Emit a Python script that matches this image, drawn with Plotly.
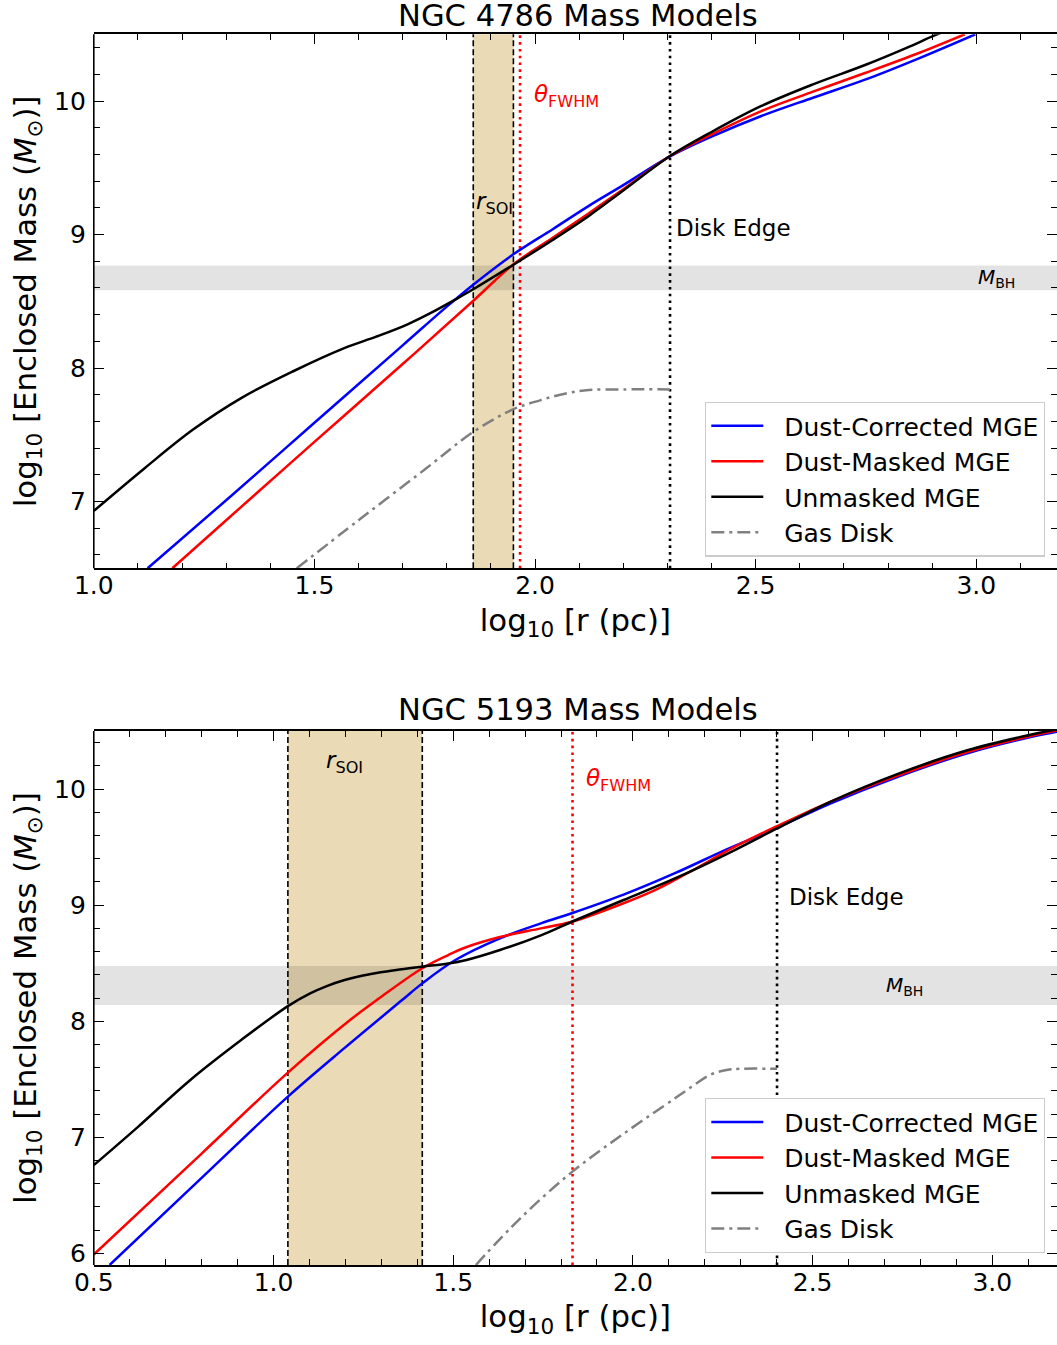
import plotly.graph_objects as go

# ---------------- data : NGC 4786 (top) ----------------
top_dc_x = [1.122, 1.3, 1.5, 1.7, 1.8, 1.862, 1.95, 2.04, 2.122, 2.2, 2.306, 2.4, 2.513, 2.63, 2.748, 2.87, 2.998]
top_dc_y = [6.5, 7.01, 7.59, 8.17, 8.46, 8.63, 8.85, 9.04, 9.215, 9.37, 9.585, 9.733, 9.888, 10.025, 10.16, 10.32, 10.5]

top_dm_x = [1.178, 1.3, 1.5, 1.7, 1.862, 1.952, 2.04, 2.122, 2.2, 2.306, 2.4, 2.513, 2.63, 2.748, 2.87, 2.974]
top_dm_y = [6.5, 6.86, 7.447, 8.03, 8.51, 8.78, 8.975, 9.16, 9.34, 9.588, 9.75, 9.925, 10.07, 10.21, 10.36, 10.5]

top_um_x = [1.0, 1.116, 1.225, 1.335, 1.452, 1.569, 1.64, 1.71, 1.765, 1.819, 1.862, 1.952, 2.04, 2.122, 2.2, 2.306, 2.4, 2.513, 2.63, 2.748, 2.85, 2.904, 2.95]
top_um_y = [6.93, 7.252, 7.539, 7.777, 7.976, 8.151, 8.235, 8.326, 8.415, 8.513, 8.594, 8.776, 8.96, 9.14, 9.33, 9.588, 9.768, 9.963, 10.125, 10.27, 10.41, 10.49, 10.55]

top_gas_x = [1.46, 1.6, 1.75, 1.862, 1.95, 2.013, 2.07, 2.122, 2.2, 2.306]
top_gas_y = [6.5, 6.86, 7.24, 7.526, 7.69, 7.76, 7.81, 7.835, 7.84, 7.84]

top_rsoi = [1.860, 1.951]
top_fwhm = 1.966
top_disk = 2.306
top_mbh = [8.583, 8.768]

# ---------------- data : NGC 5193 (bottom) ----------------
bot_dc_x = [0.544, 0.8, 1.04, 1.198, 1.357, 1.414, 1.506, 1.63, 1.744, 1.83, 1.974, 2.117, 2.261, 2.401, 2.549, 2.741, 2.933, 3.125, 3.19]
bot_dc_y = [5.9, 6.65, 7.35, 7.77, 8.18, 8.326, 8.527, 8.714, 8.843, 8.93, 9.09, 9.275, 9.48, 9.665, 9.875, 10.11, 10.31, 10.46, 10.5]

bot_dm_x = [0.5, 0.8, 1.04, 1.213, 1.294, 1.414, 1.486, 1.534, 1.63, 1.744, 1.83, 1.974, 2.069, 2.166, 2.261, 2.357, 2.401, 2.549, 2.741, 2.933, 3.125, 3.19]
bot_dm_y = [5.99, 6.86, 7.557, 8.01, 8.197, 8.456, 8.57, 8.635, 8.725, 8.8, 8.857, 9.016, 9.14, 9.3, 9.465, 9.615, 9.68, 9.89, 10.12, 10.32, 10.47, 10.51]

bot_um_x = [0.5, 0.623, 0.767, 0.911, 1.04, 1.102, 1.15, 1.198, 1.246, 1.294, 1.342, 1.414, 1.486, 1.534, 1.63, 1.744, 1.83, 1.974, 2.117, 2.261, 2.401, 2.549, 2.741, 2.933, 3.125, 3.19]
bot_um_y = [6.76, 7.09, 7.49, 7.84, 8.13, 8.24, 8.305, 8.355, 8.392, 8.42, 8.442, 8.47, 8.497, 8.525, 8.613, 8.74, 8.857, 9.044, 9.23, 9.44, 9.661, 9.89, 10.135, 10.336, 10.48, 10.52]

bot_gas_x = [1.563, 1.686, 1.83, 1.974, 2.117, 2.17, 2.214, 2.261, 2.3, 2.401]
bot_gas_y = [5.9, 6.3, 6.7, 7.03, 7.336, 7.45, 7.537, 7.58, 7.59, 7.59]

bot_rsoi = [1.040, 1.414]
bot_fwhm = 1.832
bot_disk = 2.401
bot_mbh = [8.14, 8.475]

series_names = ["Dust-Corrected MGE", "Dust-Masked MGE", "Unmasked MGE", "Gas Disk"]
series_colors = ["#0000ff", "#ff0000", "#000000", "#808080"]
titles = ["NGC 4786 Mass Models", "NGC 5193 Mass Models"]

# ---------------- layout helpers ----------------
W, H = 1057, 1345
FONT = "DejaVu Sans"
NB = "\u00a0\u00a0"


def px(p):
    return p / W


def py(p):
    return 1 - p / H


fig = go.Figure()

panels = [
    dict(xa="x", ya="y", leg="legend",
         data=[(top_dc_x, top_dc_y), (top_dm_x, top_dm_y), (top_um_x, top_um_y), (top_gas_x, top_gas_y)],
         rsoi=top_rsoi, fwhm=top_fwhm, disk=top_disk, mbh=top_mbh),
    dict(xa="x2", ya="y2", leg="legend2",
         data=[(bot_dc_x, bot_dc_y), (bot_dm_x, bot_dm_y), (bot_um_x, bot_um_y), (bot_gas_x, bot_gas_y)],
         rsoi=bot_rsoi, fwhm=bot_fwhm, disk=bot_disk, mbh=bot_mbh),
]

shapes = []
for p in panels:
    xa, ya = p["xa"], p["ya"]
    for (xs, ys), name, col in zip(p["data"], series_names, series_colors):
        fig.add_trace(go.Scatter(
            x=xs, y=ys, mode="lines", name=NB + name, xaxis=xa, yaxis=ya, legend=p["leg"],
            line=dict(color=col, width=2.5, shape="spline", smoothing=1.0,
                      dash="13px,5px,3px,5px" if name == "Gas Disk" else "solid"),
            hoverinfo="skip"))
    # bands
    shapes.append(dict(type="rect", xref=xa, yref=ya + " domain", x0=p["rsoi"][0], x1=p["rsoi"][1],
                       y0=0, y1=1, fillcolor="rgba(184,134,11,0.3)", line=dict(width=0), layer="below"))
    shapes.append(dict(type="rect", xref=xa + " domain", yref=ya, x0=0, x1=1, y0=p["mbh"][0], y1=p["mbh"][1],
                       fillcolor="rgba(0,0,0,0.11)", line=dict(width=0), layer="below"))
    for xv in p["rsoi"]:
        shapes.append(dict(type="line", xref=xa, yref=ya + " domain", x0=xv, x1=xv, y0=0, y1=1,
                           line=dict(color="black", width=1.6, dash="6px,3px"), layer="below"))
    shapes.append(dict(type="line", xref=xa, yref=ya + " domain", x0=p["fwhm"], x1=p["fwhm"], y0=0, y1=1,
                       line=dict(color="#ff0000", width=2.6, dash="2.6px,4.2px"), layer="below"))
    shapes.append(dict(type="line", xref=xa, yref=ya + " domain", x0=p["disk"], x1=p["disk"], y0=0, y1=1,
                       line=dict(color="black", width=2.6, dash="2.6px,4.2px"), layer="below"))
    # left spine
    shapes.append(dict(type="line", xref=xa + " domain", yref=ya + " domain", x0=0, x1=0, y0=0, y1=1,
                       line=dict(color="black", width=1.6), layer="above"))

x_dom = [px(93.8), 1.0]
axis_common = dict(ticks="inside", ticklen=10, tickwidth=1.3, tickcolor="black",
                   showgrid=False, zeroline=False, mirror="ticks", automargin=False,
                   tickfont=dict(family=FONT, size=25, color="black"),
                   title_font=dict(family=FONT, size=30.8, color="black"))

xlabel = "log<sub>10</sub> [r (pc)]"
ylabel = "log<sub>10</sub> [Enclosed Mass (<i>M</i><sub>⊙</sub>)]"

xminor = dict(ticks="inside", ticklen=6, tickwidth=1.1, dtick=0.1, tick0=0, tickcolor="black")
yminor = dict(ticks="inside", ticklen=6, tickwidth=1.1, dtick=0.2, tick0=0, tickcolor="black")

legend_common = dict(xanchor="left", yanchor="top", bgcolor="white",
                     bordercolor="#cccccc", borderwidth=1.3,
                     font=dict(family=FONT, size=25, color="black"), itemwidth=52)

fig.update_layout(
    width=W, height=H, margin=dict(l=0, r=0, t=0, b=0),
    plot_bgcolor="white", paper_bgcolor="white",
    font=dict(family=FONT, color="black"),
    xaxis=dict(domain=x_dom, anchor="y", range=[1.0, 3.183], tick0=0, dtick=0.5, tickformat=".1f",
               showline=True, linecolor="black", linewidth=1.6, minor=xminor, ticklabelstandoff=-6,
               title=dict(text=xlabel, standoff=10), **axis_common),
    yaxis=dict(domain=[py(568.3), py(34.3)], anchor="x", range=[6.5, 10.5], tick0=0, dtick=1,
               showline=False, minor=yminor, ticklabelstandoff=7,
               title=dict(text=ylabel, standoff=8), **axis_common),
    xaxis2=dict(domain=x_dom, anchor="y2", range=[0.5, 3.18], tick0=0, dtick=0.5, tickformat=".1f",
                showline=True, linecolor="black", linewidth=1.6, minor=xminor, ticklabelstandoff=-6,
                title=dict(text=xlabel, standoff=10), **axis_common),
    yaxis2=dict(domain=[py(1265), py(731)], anchor="x2", range=[5.9, 10.5], tick0=0, dtick=1,
                showline=False, minor=yminor, ticklabelstandoff=7,
                title=dict(text=ylabel, standoff=8), **axis_common),
    legend=dict(x=px(705), y=py(401.7), **legend_common),
    legend2=dict(x=px(705), y=py(1098), **legend_common),
    shapes=shapes,
)

ann = []
for t, yc in zip(titles, [15, 709.5]):
    ann.append(dict(text=t, xref="paper", yref="paper", x=px(577.5), y=py(yc), xanchor="center",
                    yanchor="middle", showarrow=False, font=dict(family=FONT, size=30.6, color="black")))

label_specs = [
    # (xref, yref, x, y, xshift, text, color, size)
    ("x", "y", top_rsoi[0], 9.24, 1, "<i>r</i><sub>SOI</sub>", "black", 23),
    ("x", "y", top_fwhm, 10.035, 12, "<i>θ</i><sub>FWHM</sub>", "#ff0000", 23),
    ("x", "y", top_disk, 9.05, 4, "Disk Edge", "black", 23),
    ("x", "y", 3.0, sum(top_mbh) / 2, 0, "<i>M</i><sub>BH</sub>", "black", 20),
    ("x2", "y2", bot_rsoi[0], 10.23, 36, "<i>r</i><sub>SOI</sub>", "black", 23),
    ("x2", "y2", bot_fwhm, 10.08, 11, "<i>θ</i><sub>FWHM</sub>", "#ff0000", 23),
    ("x2", "y2", bot_disk, 9.07, 10, "Disk Edge", "black", 23),
    ("x2", "y2", 2.70, sum(bot_mbh) / 2, 0, "<i>M</i><sub>BH</sub>", "black", 20),
]
for xr, yr, xv, yv, xs, txt, col, sz in label_specs:
    ann.append(dict(text=txt, xref=xr, yref=yr, x=xv, y=yv, xshift=xs, xanchor="left", yanchor="middle",
                    showarrow=False, font=dict(family=FONT, size=sz, color=col)))

fig.update_layout(annotations=ann)

# remove the default 8px page margin so the figure fills the window exactly
fig.write_html("out.html", config={"displayModeBar": False},
               post_script="document.body.style.margin='0px';")
